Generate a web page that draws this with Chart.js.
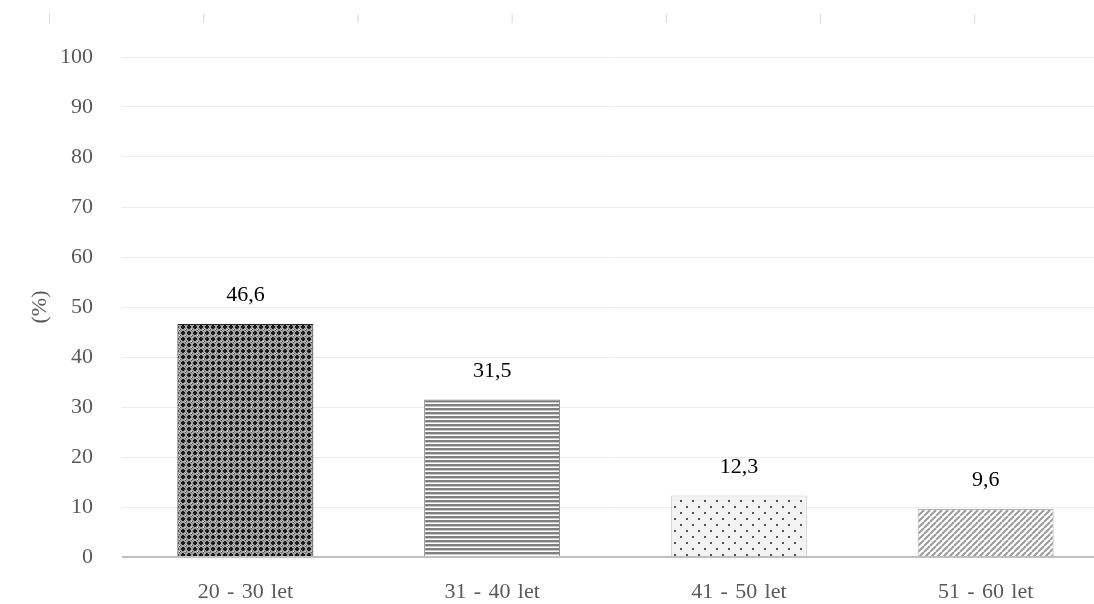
<!DOCTYPE html>
<html>
<head>
<meta charset="utf-8">
<script src="https://cdn.jsdelivr.net/npm/chart.js@4.4.1/dist/chart.umd.min.js"></script>
<style>
  html,body{margin:0;padding:0;background:#fff;overflow:hidden;width:1094px;height:604px}
  canvas{display:block}
</style>
</head>
<body>
<canvas id="c" width="1110" height="604"></canvas>
<script>
/* données */
const categories  = ['20 \u200A- \u200A30 \u200Alet', '31 \u200A- \u200A40 \u200Alet', '41 \u200A- \u200A50 \u200Alet', '51 \u200A- \u200A60 \u200Alet'];
const values      = [46.6, 31.5, 12.3, 9.6];
const valueLabels = ['46,6', '31,5', '12,3', '9,6'];
const yTicks      = [0, 10, 20, 30, 40, 50, 60, 70, 80, 90, 100];

const SERIF = '"Liberation Serif", "DejaVu Serif", serif';

/* ─── motifs de remplissage ─── */
const tile = (w, h, draw) => {
  const c = document.createElement('canvas');
  c.width = w; c.height = h;
  draw(c.getContext('2d'));
  return document.getElementById('c').getContext('2d').createPattern(c, 'repeat');
};

// croisillons sombres (20-30)
const patCross = tile(6, 6, g => {
  g.fillStyle = '#a0a0a0'; g.fillRect(0, 0, 6, 6);
  g.fillStyle = '#1a1a1a';
  g.fillRect(2, 1, 2, 1); g.fillRect(1, 2, 4, 2); g.fillRect(2, 4, 2, 1);
  g.fillStyle = '#555';
  g.fillRect(5, 0, 1, 1); g.fillRect(0, 5, 1, 1);
  g.fillStyle = '#f0f0f0';
  g.fillRect(5, 5, 1, 1);
});

// lignes horizontales (31-40)
const patHoriz = tile(4, 4, g => {
  g.fillStyle = '#ffffff'; g.fillRect(0, 0, 4, 4);
  g.fillStyle = '#808080'; g.fillRect(0, 0, 4, 2);
  g.fillStyle = '#c8c8c8'; g.fillRect(0, 2, 4, 1);
});

// pointillé (41-50)
const patDots = tile(12, 12, g => {
  g.fillStyle = '#f3f3f3'; g.fillRect(0, 0, 12, 12);
  g.fillStyle = '#555555';
  g.fillRect(2, 2, 2, 2); g.fillRect(8, 8, 2, 2);
});

// hachures diagonales (51-60)
const patDiag = tile(6, 6, g => {
  g.fillStyle = '#ffffff'; g.fillRect(0, 0, 6, 6);
  g.strokeStyle = '#9a9a9a'; g.lineWidth = 2;
  for (let k = -6; k <= 12; k += 6) {
    g.beginPath(); g.moveTo(k, 6); g.lineTo(k + 6, 0); g.stroke();
  }
});

const fills   = [patCross, patHoriz, patDots, patDiag];
const borders = ['#222222', '#808080', '#cccccc', '#b0b0b0'];

/* étiquettes de valeur au-dessus des barres */
const valueLabelPlugin = {
  id: 'valueLabels',
  afterDatasetsDraw(chart) {
    const { ctx } = chart;
    const meta = chart.getDatasetMeta(0);
    ctx.save();
    ctx.font = `22px ${SERIF}`;
    ctx.fillStyle = '#000';
    ctx.textAlign = 'center';
    ctx.textBaseline = 'alphabetic';
    meta.data.forEach((bar, i) => ctx.fillText(valueLabels[i], bar.x, bar.y - 23));
    ctx.restore();
  }
};

/* petits traits gris en haut de l'image */
const topMarks = {
  id: 'topMarks',
  beforeDraw(chart) {
    const { ctx } = chart;
    ctx.save();
    ctx.strokeStyle = '#d9d9d9'; ctx.lineWidth = 1;
    for (let i = 0; i < 7; i++) {
      const x = 49.5 + i * 154.2;
      ctx.beginPath(); ctx.moveTo(x, 14); ctx.lineTo(x, 23); ctx.stroke();
    }
    ctx.restore();
  }
};

new Chart(document.getElementById('c'), {
  type: 'bar',
  data: {
    labels: categories,
    datasets: [{
      data: values,
      backgroundColor: fills,
      borderColor: borders,
      borderWidth: 1,
      categoryPercentage: 1,
      barPercentage: 0.551
    }]
  },
  plugins: [valueLabelPlugin, topMarks],
  options: {
    responsive: false,
    animation: false,
    devicePixelRatio: 1,
    layout: { padding: { top: 57, left: 20, right: 1, bottom: 0 } },
    plugins: { legend: { display: false }, tooltip: { enabled: false } },
    scales: {
      x: {
        grid: { display: false },
        border: { display: false },
        afterFit: s => { s.height = 47; },
        ticks: { color: '#595959', font: { family: SERIF, size: 22 }, padding: 14, maxRotation: 0 }
      },
      y: {
        min: 0, max: 100,
        afterBuildTicks: s => { s.ticks = yTicks.map(v => ({ value: v })); },
        afterFit: s => { s.width = 102; },
        border: { display: false },
        grid: {
          drawTicks: false,
          color: c => c.tick.value === 0 ? '#bfbfbf' : '#ececec',
          lineWidth: c => c.tick.value === 0 ? 2 : 1
        },
        ticks: { color: '#595959', font: { family: SERIF, size: 22 }, padding: 29 },
        title: { display: true, text: '(%)', color: '#595959', font: { family: SERIF, size: 22 }, padding: 7 }
      }
    }
  }
});
</script>
</body>
</html>
